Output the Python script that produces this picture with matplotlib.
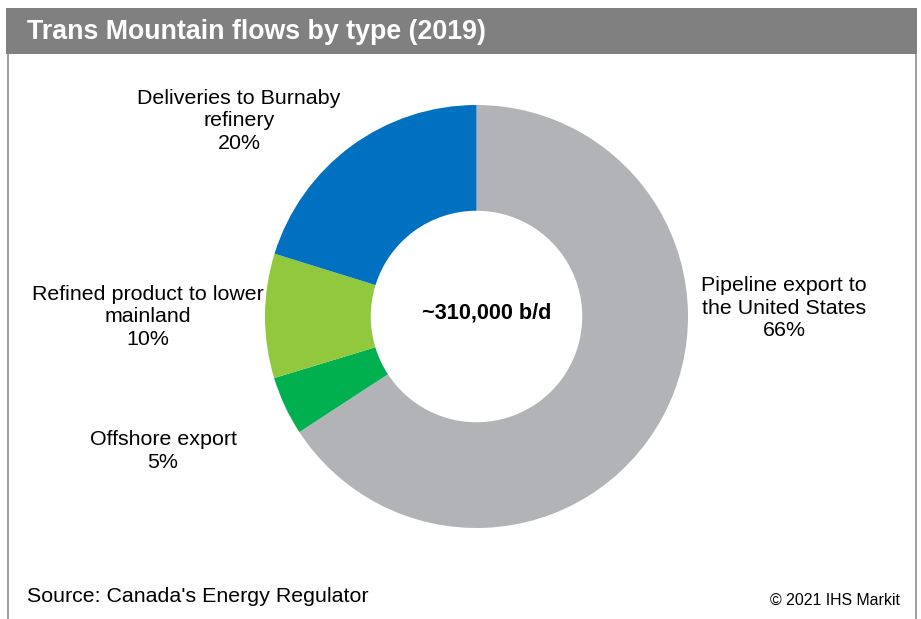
import matplotlib.pyplot as plt
from matplotlib.lines import Line2D
from matplotlib.patches import Rectangle

plt.rcParams["font.family"] = ["Liberation Sans", "DejaVu Sans"]

labels = ["Pipeline export to\nthe United States\n66%", "Offshore export\n5%",
          "Refined product to lower\nmainland\n10%", "Deliveries to Burnaby\nrefinery\n20%"]
shares = [65.8, 4.5, 9.5, 20.2]
colors = ["#B1B3B6", "#00B04F", "#92C83E", "#0070C0"]
label_pos = [(784, 308), (163, 451), (148, 317), (239, 121)]

W, H = 921, 619
fig = plt.figure(figsize=(W / 100, H / 100), dpi=100)


def fx(x):
    return x / W


def fy(y):
    return 1 - y / H


# side borders and title bar
for x in (8, 916):
    fig.lines.append(Line2D([fx(x), fx(x)], [fy(54), 0], transform=fig.transFigure,
                            color="#8C8C8C", lw=1.2))
fig.patches.append(Rectangle((fx(6), fy(54)), fx(911), 46 / H, transform=fig.transFigure,
                             facecolor="#808080", edgecolor="none", zorder=-1))
fig.text(fx(27), fy(32), "Trans Mountain flows by type (2019)", color="white",
         fontsize=19.3, fontweight="bold", va="center", ha="left")

cx, cy, r = 476.5, 316.5, 211.5
ax = fig.add_axes([fx(cx - r), fy(cy + r), 2 * r / W, 2 * r / H])
ax.pie(shares, colors=colors, startangle=90, counterclock=False, radius=1,
       wedgeprops=dict(width=0.5, edgecolor="none"))
ax.set_xlim(-1, 1)
ax.set_ylim(-1, 1)
ax.set_aspect("auto")
ax.axis("off")

fig.text(fx(487), fy(313), "~310,000 b/d", fontsize=15.6, fontweight="bold",
         ha="center", va="center")

for lab, (x, y) in zip(labels, label_pos):
    fig.text(fx(x), fy(y), lab, fontsize=15.4, ha="center", va="center", linespacing=1.25)

fig.text(fx(27), fy(597), "Source: Canada's Energy Regulator", fontsize=15.4, ha="left", va="center")
fig.text(fx(900), fy(600), "\u00a9 2021 IHS Markit", fontsize=11.4, ha="right", va="center")

fig.savefig("out.png", dpi=100)
